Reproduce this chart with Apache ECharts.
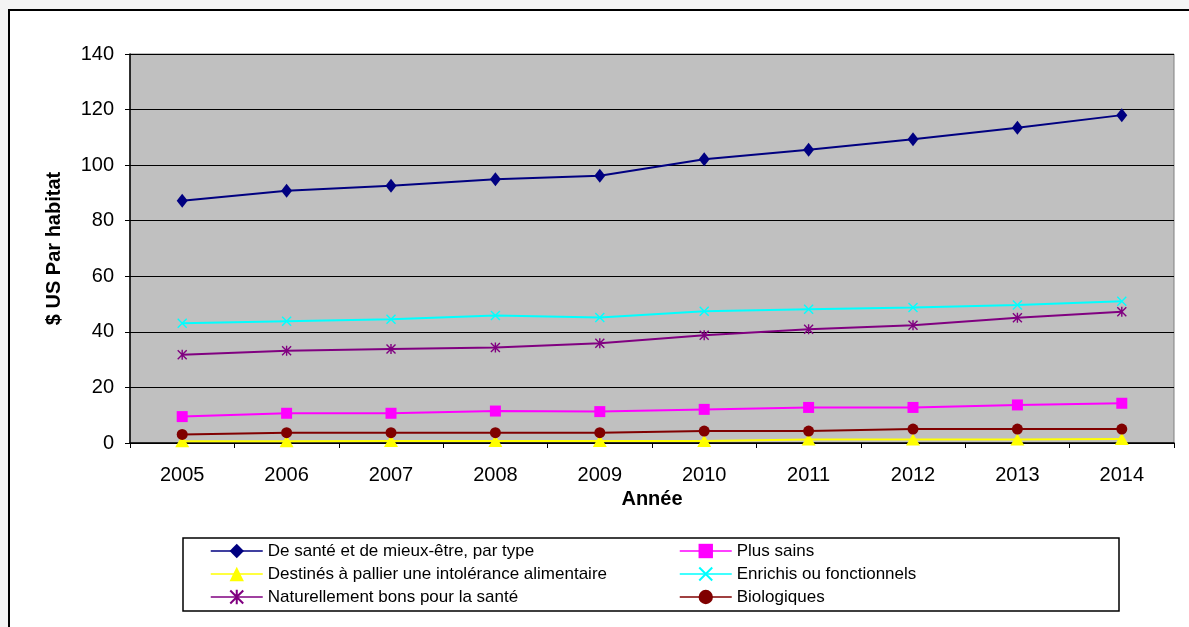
<!DOCTYPE html>
<html>
<head>
<meta charset="utf-8">
<script src="https://cdn.jsdelivr.net/npm/echarts@6/dist/echarts.min.js"></script>
<style>
html,body{margin:0;padding:0;background:#f4f4f4;}
#c{width:1189px;height:627px;}
</style>
</head>
<body>
<div id="c"></div>
<script>
const years = ['2005','2006','2007','2008','2009','2010','2011','2012','2013','2014'];
const yTicks = [0, 20, 40, 60, 80, 100, 120, 140];
const seriesNames = [
  'De santé et de mieux-être, par type',
  'Plus sains',
  'Destinés à pallier une intolérance alimentaire',
  'Enrichis ou fonctionnels',
  'Naturellement bons pour la santé',
  'Biologiques'
];
const santeMieuxEtre = [87.2, 90.8, 92.6, 94.9, 96.2, 102.1, 105.5, 109.3, 113.5, 118.0];
const plusSains = [9.5, 10.7, 10.7, 11.5, 11.3, 12.1, 12.8, 12.8, 13.7, 14.3];
const intolerance = [0.6, 0.6, 0.7, 0.7, 0.7, 0.7, 1.3, 1.3, 1.3, 1.4];
const enrichis = [43.1, 43.8, 44.5, 45.9, 45.2, 47.4, 48.1, 48.8, 49.7, 51.0];
const naturellement = [31.8, 33.2, 33.8, 34.4, 35.9, 38.8, 40.9, 42.4, 45.1, 47.2];
const biologiques = [3.1, 3.7, 3.7, 3.7, 3.7, 4.3, 4.3, 5.0, 5.0, 5.0];

const FONT = '"Liberation Sans", Arial, sans-serif';
const xPath = 'path://M0,1L1,0L5,4L9,0L10,1L6,5L10,9L9,10L5,6L1,10L0,9L4,5Z';
const starPath = 'path://M0,1L1,0L5,4L9,0L10,1L6,5L10,9L9,10L5,6L1,10L0,9L4,5Z M4.3,0L5.7,0L5.7,10L4.3,10Z';

function mk(name, data, color, symbol, size) {
  return {
    name: name, type: 'line', data: data, clip: false,
    symbol: symbol, symbolSize: size,
    lineStyle: {color: color, width: 2},
    itemStyle: {color: color, borderWidth: 0},
    emphasis: {disabled: true}
  };
}

const chart = echarts.init(document.getElementById('c'));
const legendCommon = {
  orient: 'vertical', top: 542, itemWidth: 52, itemHeight: 18, itemGap: 5,
  textStyle: {fontFamily: FONT, fontSize: 17, color: '#000', lineHeight: 18, padding: [0,0,0,0]},
  itemStyle: {borderWidth: 0}, lineStyle: {width: 1.5}, selectedMode: false, padding: 0
};
chart.setOption({
  backgroundColor: '#f4f4f4',
  animation: false,
  graphic: [
    {type: 'rect', shape: {x: 9, y: 10, width: 1300, height: 800}, style: {fill: '#fff', stroke: '#000', lineWidth: 2}, z: -10},
    {type: 'rect', shape: {x: 183, y: 538, width: 936, height: 73}, style: {fill: '#fff', stroke: '#000', lineWidth: 1.5}, z: -5}
  ],
  grid: {left: 130, right: 15, top: 54, bottom: 184, show: true, backgroundColor: '#c0c0c0', borderColor: '#808080', borderWidth: 1},
  legend: [
    Object.assign({left: 210, data: [seriesNames[0], seriesNames[2], seriesNames[4]]}, legendCommon),
    Object.assign({left: 679, data: [seriesNames[1], seriesNames[3], seriesNames[5]]}, legendCommon)
  ],
  xAxis: {
    type: 'category', data: years, boundaryGap: true,
    name: 'Année', nameLocation: 'middle', nameGap: 37,
    nameTextStyle: {fontFamily: FONT, fontSize: 20, fontWeight: 'bold', color: '#000'},
    axisLine: {lineStyle: {color: '#000', width: 1.5}},
    axisTick: {show: true, inside: false, length: 5, lineStyle: {color: '#000'}},
    axisLabel: {fontFamily: FONT, fontSize: 20, color: '#000', margin: 22},
    splitLine: {show: false}
  },
  yAxis: {
    type: 'value', min: yTicks[0], max: yTicks[yTicks.length - 1], interval: 20,
    name: '$ US Par habitat', nameLocation: 'middle', nameGap: 66, nameRotate: 90,
    nameTextStyle: {fontFamily: FONT, fontSize: 20, fontWeight: 'bold', color: '#000'},
    axisLine: {show: true, lineStyle: {color: '#000', width: 1.5}},
    axisTick: {show: true, inside: false, length: 5, lineStyle: {color: '#000'}},
    axisLabel: {fontFamily: FONT, fontSize: 20, color: '#000', margin: 16},
    splitLine: {show: true, lineStyle: {color: '#000', width: 1.2}}
  },
  series: [
    mk(seriesNames[0], santeMieuxEtre, '#000080', 'diamond', [11, 14]),
    mk(seriesNames[1], plusSains, '#ff00ff', 'rect', 11),
    mk(seriesNames[2], intolerance, '#ffff00', 'triangle', [14, 12]),
    mk(seriesNames[3], enrichis, '#00ffff', xPath, 10),
    mk(seriesNames[4], naturellement, '#800080', starPath, 10),
    mk(seriesNames[5], biologiques, '#800000', 'circle', 11)
  ]
});
</script>
</body>
</html>
